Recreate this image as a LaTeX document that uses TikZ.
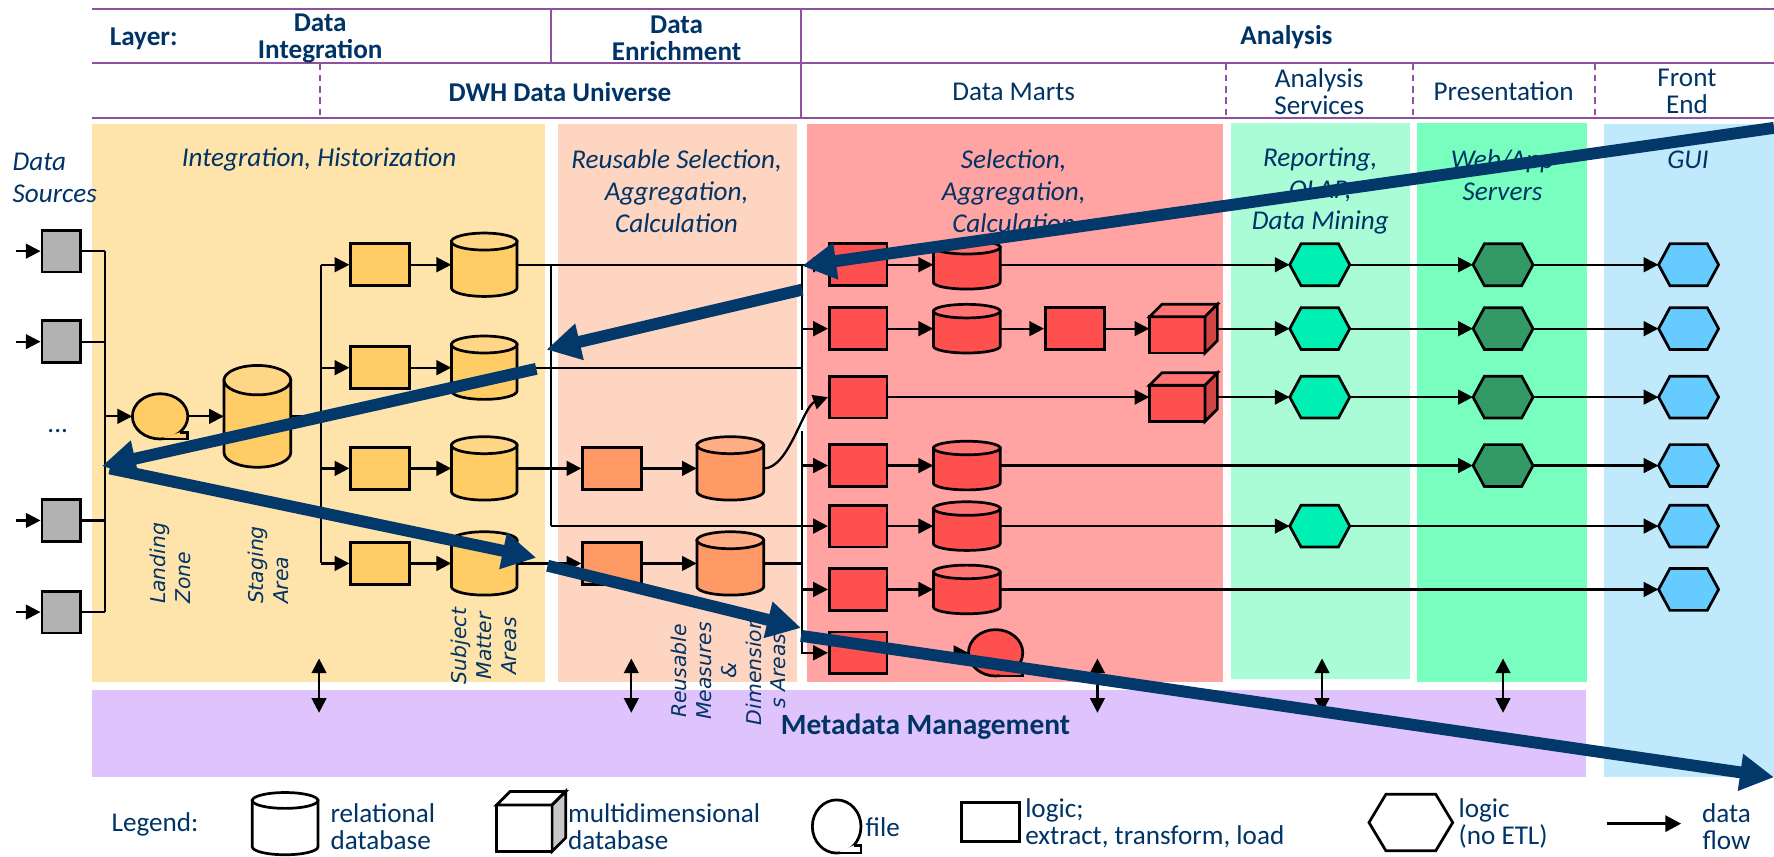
\documentclass[tikz,border=0pt]{standalone}
\usepackage{fontspec}
\setmainfont{Carlito}
\newfontfamily\labelfont{DejaVu Sans}
\usetikzlibrary{arrows.meta}

\definecolor{navy}{HTML}{003366}
\definecolor{hdrpurple}{HTML}{9050A0}
\definecolor{bigblue}{HTML}{03386A}
\definecolor{bgyellow}{HTML}{FEE3AA}
\definecolor{bgpeach}{HTML}{FDD5C1}
\definecolor{bgred}{HTML}{FFA3A3}
\definecolor{bglgreen}{HTML}{A9FCD6}
\definecolor{bggreen}{HTML}{78FFBF}
\definecolor{bgblue}{HTML}{C1E9FC}
\definecolor{bgpurple}{HTML}{DEC3FD}
\definecolor{fgray}{HTML}{B2B2B2}
\definecolor{fyellow}{HTML}{FFCC66}
\definecolor{forange}{HTML}{FF9966}
\definecolor{fred}{HTML}{FF5050}
\definecolor{fredtop}{HTML}{FF7373}
\definecolor{fredside}{HTML}{D04444}
\definecolor{fhexl}{HTML}{00F0B4}
\definecolor{fhexd}{HTML}{339966}
\definecolor{fhexb}{HTML}{66CCFF}
\definecolor{legside}{HTML}{C8C8C8}

% relational database: name, cx, cy, w, h, cap radius, fill
\newcommand{\dbcyl}[7]{%
  \node[inner sep=0pt, minimum width=#4pt, minimum height=#5pt] (#1) at (#2,#3) {};
  \draw[shapeline, fill=#7] ({#2-#4/2},{#3-#5/2+#6}) -- ({#2-#4/2},{#3+#5/2-#6})
    .. controls ({#2-#4/2},{#3+#5/2-#6+0.5523*#6}) and ({#2-0.5523*#4/2},{#3+#5/2}) .. (#2,{#3+#5/2})
    .. controls ({#2+0.5523*#4/2},{#3+#5/2}) and ({#2+#4/2},{#3+#5/2-#6+0.5523*#6}) .. ({#2+#4/2},{#3+#5/2-#6})
    -- ({#2+#4/2},{#3-#5/2+#6}) -- cycle;
  \draw[shapeline, fill=#7!80!white] (#2,{#3-#5/2+#6}) ellipse[x radius={#4/2}, y radius=#6];
}
% multidimensional database: name, cx, cy, w, h, depth, front, top, side
\newcommand{\dbcube}[9]{%
  \node[inner sep=0pt, minimum width=#4pt, minimum height=#5pt] (#1) at (#2,#3) {};
  \draw[shapeline, fill=#7] ({#2-#4/2},{#3-#5/2+#6}) rectangle ({#2+#4/2-#6},{#3+#5/2});
  \draw[shapeline, fill=#8] ({#2-#4/2},{#3-#5/2+#6}) -- ({#2-#4/2+#6},{#3-#5/2}) -- ({#2+#4/2},{#3-#5/2}) -- ({#2+#4/2-#6},{#3-#5/2+#6}) -- cycle;
  \draw[shapeline, fill=#9] ({#2+#4/2-#6},{#3-#5/2+#6}) -- ({#2+#4/2},{#3-#5/2}) -- ({#2+#4/2},{#3+#5/2-#6}) -- ({#2+#4/2-#6},{#3+#5/2}) -- cycle;
}
% logic without ETL: name, cx, cy, w, h, inset, fill
\newcommand{\hexlogic}[7]{%
  \node[inner sep=0pt, minimum width=#4pt, minimum height=#5pt] (#1) at (#2,#3) {};
  \draw[shapeline, fill=#7] ({#2-#4/2},#3) -- ({#2-#4/2+#6},{#3-#5/2}) -- ({#2+#4/2-#6},{#3-#5/2})
    -- ({#2+#4/2},#3) -- ({#2+#4/2-#6},{#3+#5/2}) -- ({#2-#4/2+#6},{#3+#5/2}) -- cycle;
}
% file (tape symbol): name, cx, cy, w, h, fill
\newcommand{\tapefile}[6]{%
  \node[inner sep=0pt, minimum width=#4pt, minimum height=#5pt] (#1) at (#2,#3) {};
  \draw[shapeline, fill=#6] (#2,#3) ellipse[x radius={#4/2}, y radius={#5/2}];
  \fill[#6] (#2,{#3+#5/2}) -- ({#2+#4/2},{#3+#5/2}) -- ({#2+#4/2},{#3+0.354*#5}) -- ({#2+0.354*#4},{#3+0.354*#5}) -- cycle;
  \draw[shapeline] (#2,{#3+#5/2}) -- ({#2+#4/2},{#3+#5/2}) -- ({#2+#4/2},{#3+0.354*#5}) -- ({#2+0.354*#4},{#3+0.354*#5});
}

\tikzset{
  shapeline/.style={draw=black, line width=2.4pt},
  etl/.style={draw=black, line width=2.4pt, inner sep=0pt, minimum width=52pt, minimum height=37pt},
  flow/.style={line width=2pt, -{Triangle[length=13pt,width=13pt]}},
  link/.style={line width=2pt},
  dblflow/.style={line width=2pt, {Triangle[length=13pt,width=13pt]}-{Triangle[length=13pt,width=13pt]}},
  bigarrow/.style={draw=bigblue, line width=10.5pt, -{Triangle[length=30pt,width=31pt]}},
  hline/.style={draw=hdrpurple, line width=1.8pt},
  hdash/.style={hline, dash pattern=on 6pt off 4pt},
  lbl/.style={text=navy, inner sep=0pt, align=center, font=\fontsize{24}{24}\selectfont},
  lblb/.style={text=navy, inner sep=0pt, align=center, font=\bfseries\fontsize{24}{24}\selectfont},
  ttl/.style={text=navy, inner sep=0pt, align=center, font=\itshape\fontsize{24}{28}\selectfont},
  rotl/.style={text=navy, inner sep=0pt, rotate=90, font=\labelfont\itshape\fontsize{18}{22}\selectfont},
  leg/.style={text=navy, inner sep=0pt, align=left, anchor=west, font=\fontsize{24}{24}\selectfont},
}

\begin{document}
\begin{tikzpicture}[x=1pt, y=-1pt]
\useasboundingbox (0,0) rectangle (1568,757);

% ---- column backgrounds
\fill[bgyellow]  (81,110)   rectangle (482,603);
\fill[bgpeach]   (493,110)  rectangle (704,603);
\fill[bgred]     (713,110)  rectangle (1081,603);
\fill[bglgreen]  (1088,109) rectangle (1246,600);
\fill[bggreen]   (1252,109) rectangle (1403,603);
\fill[bgblue]    (1418,110) rectangle (1568,687);
\fill[bgpurple]  (81,610)   rectangle (1402,687);

% ---- header grid
\draw[hline] (81,8) -- (1568,8);
\draw[hline] (81,56) -- (1568,56);
\draw[hline] (81,104) -- (1568,104);
\draw[hline] (487,8) -- (487,56);
\draw[hline] (708,8) -- (708,104);
\draw[hdash] (283,56) -- (283,104);
\draw[hdash] (1084,56) -- (1084,104);
\draw[hdash] (1249,56) -- (1249,104);
\draw[hdash] (1410,56) -- (1410,104);

\node[lblb] (hlayer) at (127,34) {Layer:};
\node[lblb] (hint) at (283,34) {Data\\Integration};
\node[lblb] (henr) at (598,34) {Data\\Enrichment};
\node[lblb] (hana) at (1137,33) {Analysis};
\node[lblb] (hdwh) at (495,81) {DWH Data Universe};
\node[lbl] (hdm) at (896,81) {Data Marts};
\node[lbl] (has) at (1166,81) {Analysis\\Services};
\node[lbl] (hpres) at (1329,81) {Presentation};
\node[lbl] (hfe) at (1491,81) {Front\\End};

% ---- column titles
\node[ttl, align=left, anchor=west] (tds) at (11,157) {Data\\Sources};
\node[ttl] (tint) at (282,141) {Integration, Historization};
\node[ttl] (tenr) at (598,169) {Reusable Selection,\\Aggregation,\\Calculation};
\node[ttl] (tdm) at (896,169) {Selection,\\Aggregation,\\Calculation};
\node[ttl] (trep) at (1167,169) {Reporting,\\OLAP,\\Data Mining};
\node[ttl] (tweb) at (1328,155) {Web/App\\Servers};
\node[ttl] (tgui) at (1492,141) {GUI};

% ---- data sources
\foreach \n/\yy in {1/222, 2/302, 3/460, 4/541} {
  \node[etl, fill=fgray, minimum width=34pt] (g\n) at (54,\yy) {};
  \coordinate (gin\n) at (14,\yy);
  \draw[flow] (gin\n) -- (g\n.west);
}
\node[lbl] (dots) at (51,381) {...};
\coordinate (sbx) at (93,0);
\foreach \n in {1,...,4} { \draw[link] (g\n.east) -- (g\n.east -| sbx); }
\draw[link] (g1.east -| sbx) -- (g4.east -| sbx);

% ---- landing zone and staging area
\tapefile{lz}{141.5}{368}{49}{40}{fyellow}
\dbcyl{sa}{227.5}{368}{59}{90}{13}{fyellow}
\draw[flow] (lz.west -| sbx) -- (lz.west);
\draw[flow] (lz.east) -- (sa.west);

% ---- subject matter areas
\coordinate (yfx) at (283.5,0);
\foreach \n/\yy in {1/234, 2/325, 3/414, 4/498} {
  \node[etl, fill=fyellow] (ye\n) at (336,\yy) {};
  \dbcyl{yc\n}{428}{\yy}{58}{56}{7.5}{fyellow}
  \draw[flow] (ye\n.west -| yfx) -- (ye\n.west);
  \draw[flow] (ye\n.east) -- (yc\n.west);
}
\draw[link] (sa.east) -- (sa.east -| yfx);
\draw[link] (ye1.west -| yfx) -- (ye4.west -| yfx);

% ---- reusable measures and dimensions
\foreach \n/\yy in {3/414, 4/498} {
  \node[etl, fill=forange] (oe\n) at (541,\yy) {};
  \dbcyl{oc\n}{645.5}{\yy}{59}{56}{7.5}{forange}
  \draw[flow] (oe\n.east) -- (oc\n.west);
}

% ---- data marts
\foreach \n/\yy in {1/234, 2/290.5, 3/351, 4/411.5, 5/465, 6/521, 7/577} {
  \node[etl, fill=fred, minimum width=51pt] (ra\n) at (758.5,\yy) {};
}
\foreach \n/\yy in {1/234, 2/290.5, 4/411.5, 5/465, 6/521} {
  \dbcyl{rc\n}{854.5}{\yy}{59}{43}{6}{fred}
  \draw[flow] (ra\n.east) -- (rc\n.west);
}
\node[etl, fill=fred] (rb2) at (950,290.5) {};
\dbcube{cube2}{1046}{290.5}{60}{43}{11}{fred}{fredtop}{fredside}
\dbcube{cube3}{1046}{351}{60}{43}{11}{fred}{fredtop}{fredside}
\tapefile{rf7}{880}{577}{48}{41}{fred}

% ---- analysis services, presentation, front end
\foreach \n/\yy in {1/234, 2/290.5, 3/351, 5/465} { \hexlogic{hl\n}{1166.5}{\yy}{53}{37}{10}{fhexl} }
\foreach \n/\yy in {1/234, 2/290.5, 3/351, 4/411.5} { \hexlogic{hd\n}{1328.5}{\yy}{53}{37}{10}{fhexd} }
\foreach \n/\yy in {1/234, 2/290.5, 3/351, 4/411.5, 5/465, 6/521} { \hexlogic{hb\n}{1492.5}{\yy}{53}{37}{10}{fhexb} }

% ---- flows into the data marts
\coordinate (ebx) at (487,0);
\coordinate (dmx) at (709,0);
\draw[flow] (yc1.east) -- (ra1.west);
\draw[link] (yc2.east) -- (yc2.east -| dmx);
\draw[link] (yc1.east -| ebx) -- (ra5.west -| ebx);
\draw[flow] (yc3.east) -- (oe3.west);
\draw[flow] (yc4.east) -- (oe4.west);
\draw[flow] (ra5.west -| ebx) -- (ra5.west);
\draw[link] (oc4.east) -- (oc4.east -| dmx);
\draw[flow] (ra1.west -| dmx) |- (ra7.west);
\foreach \n in {2,4,6} { \draw[flow] (ra\n.west -| dmx) -- (ra\n.west); }
\draw[white, line width=3.5pt] (709,362) -- (709,381);
\draw[flow] (oc3.east) .. controls +(22,0) and +(-22,8) .. (ra3.west);

% ---- flows out of the data marts
\draw[flow] (rc1.east) -- (hl1.west);
\draw[flow] (rc2.east) -- (rb2.west);
\draw[flow] (rb2.east) -- (cube2.west);
\draw[flow] (cube2.east) -- (hl2.west);
\draw[flow] (ra3.east) -- (cube3.west);
\draw[flow] (cube3.east) -- (hl3.west);
\draw[flow] (rc4.east) -- (hd4.west);
\draw[flow] (rc5.east) -- (hl5.west);
\draw[flow] (rc6.east) -- (hb6.west);
\draw[flow] (ra7.east) -- (rf7.west);
\foreach \n in {1,2,3} {
  \draw[flow] (hl\n.east) -- (hd\n.west);
  \draw[flow] (hd\n.east) -- (hb\n.west);
}
\draw[flow] (hd4.east) -- (hb4.west);
\draw[flow] (hl5.east) -- (hb5.west);

% ---- area labels
\node[rotl, anchor=west, align=left] (llz) at (150.5,534) {Landing\\Zone};
\node[rotl, anchor=west, align=left] (lsa) at (237.5,534) {Staging\\Area};
\node[rotl, align=center] (lsm) at (428,571) {Subject\\Matter\\Areas};
\node[rotl, align=center] (lrm) at (644,593) {Reusable\\Measures\\\&\\Dimension\\s Areas};

% ---- metadata management
\node[text=navy, inner sep=0pt, font=\bfseries\fontsize{26}{26}\selectfont] (meta) at (818,642) {Metadata Management};
\foreach \n/\xx in {1/282, 2/558, 3/970, 4/1168.5, 5/1328.5} {
  \coordinate (mt\n) at (\xx,582);
  \coordinate (mb\n) at (\xx,630);
  \draw[dblflow] (mt\n) -- (mb\n);
}

% ---- legend
\node[lbl] (legt) at (137,729) {Legend:};
\dbcyl{legcyl}{252}{728}{58}{55}{7}{white}
\node[leg] (legcylt) at (292,731) {relational\\database};
\dbcube{legcube}{469.5}{726}{61}{53}{12}{white}{white}{legside}
\node[leg] (legcubet) at (502,731) {multidimensional\\database};
\tapefile{legfile}{739.5}{730.5}{43}{47}{white}
\node[leg] (legfilet) at (765,731) {file};
\node[etl, fill=white, minimum width=51pt, minimum height=35pt] (legbox) at (875.5,726.5) {};
\node[leg] (legboxt) at (906,728) {logic;\\extract, transform, load};
\hexlogic{leghex}{1247}{727}{74}{50}{15}{white}
\node[leg] (leghext) at (1289,728) {logic\\(no ETL)};
\coordinate (lega) at (1420,728);
\coordinate (legb) at (1486,728);
\draw[line width=3pt, -{Triangle[length=14pt,width=14pt]}] (lega) -- (legb);
\node[lbl] (legat) at (1526,731) {data\\flow};

% ---- overall data path
\coordinate (p1) at (1568,113);
\coordinate (p2) at (709,235);
\coordinate (p3) at (709,256);
\coordinate (p4) at (483,309);
\coordinate (p5) at (474,326);
\coordinate (p6) at (90,412);
\coordinate (p7) at (97,414);
\coordinate (p8) at (474,493);
\coordinate (p9) at (484,500);
\coordinate (p10) at (708,555);
\coordinate (p11) at (708,562);
\coordinate (p12) at (1568,687);
\draw[bigarrow] (p1) -- (p2);
\draw[bigarrow] (p3) -- (p4);
\draw[bigarrow] (p5) -- (p6);
\draw[bigarrow] (p7) -- (p8);
\draw[bigarrow] (p9) -- (p10);
\draw[bigarrow] (p11) -- (p12);
\end{tikzpicture}
\end{document}
